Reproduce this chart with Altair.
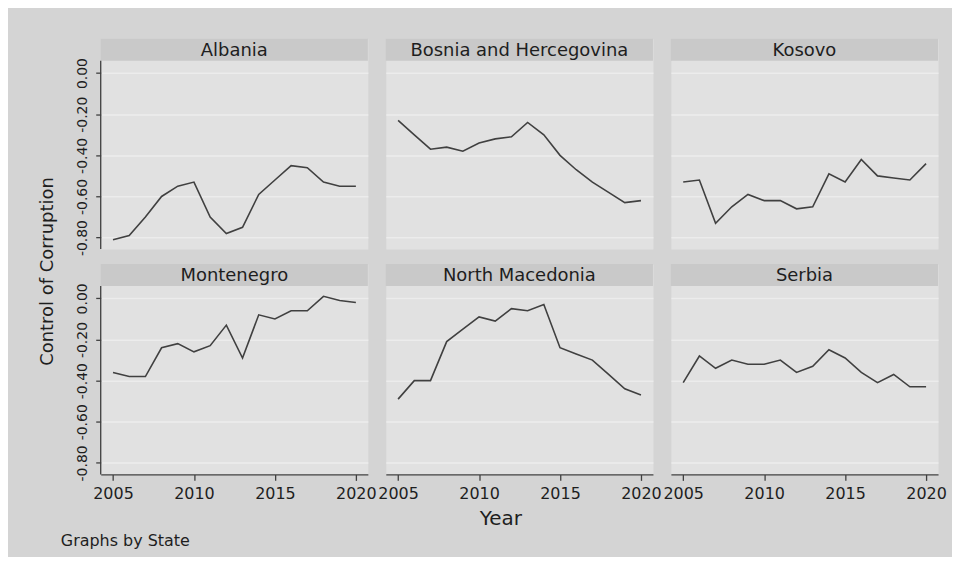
import altair as alt
import pandas as pd

years = list(range(2005, 2021))
states = ["Albania", "Bosnia and Hercegovina", "Kosovo",
          "Montenegro", "North Macedonia", "Serbia"]
albania = [-0.81, -0.79, -0.70, -0.60, -0.55, -0.53, -0.70, -0.78,
           -0.75, -0.59, -0.52, -0.45, -0.46, -0.53, -0.55, -0.55]
bosnia = [-0.23, -0.30, -0.37, -0.36, -0.38, -0.34, -0.32, -0.31,
          -0.24, -0.30, -0.40, -0.47, -0.53, -0.58, -0.63, -0.62]
kosovo = [-0.53, -0.52, -0.73, -0.65, -0.59, -0.62, -0.62, -0.66,
          -0.65, -0.49, -0.53, -0.42, -0.50, -0.51, -0.52, -0.44]
montenegro = [-0.36, -0.38, -0.38, -0.24, -0.22, -0.26, -0.23, -0.13,
              -0.29, -0.08, -0.10, -0.06, -0.06, 0.01, -0.01, -0.02]
macedonia = [-0.49, -0.40, -0.40, -0.21, -0.15, -0.09, -0.11, -0.05,
             -0.06, -0.03, -0.24, -0.27, -0.30, -0.37, -0.44, -0.47]
serbia = [-0.41, -0.28, -0.34, -0.30, -0.32, -0.32, -0.30, -0.36,
          -0.33, -0.25, -0.29, -0.36, -0.41, -0.37, -0.43, -0.43]
series = [albania, bosnia, kosovo, montenegro, macedonia, serbia]

y_ticks = [-0.8, -0.6, -0.4, -0.2, 0.0]
x_ticks = [2005, 2010, 2015, 2020]
y_title = "Control of Corruption"
x_title = "Year"
note = "Graphs by State"

FONT = "DejaVu Sans"
W, H, STRIP = 268, 211, 22
YDOM = [-0.856, 0.167]
XDOM = [2004.24, 2020.74]
LINE = "#404040"
TXT = "#1e1e1e"

label_expr = ("datum.value < 0 ? '-' + format(-datum.value, '.2f') "
              ": format(datum.value, '.2f')")


def panel(name, values, row, col):
    df = pd.DataFrame({"Year": years, "Value": values})
    one = pd.DataFrame({"State": [name]})

    if col == 0:
        ykw = dict(values=y_ticks, labelExpr=label_expr, labelAngle=270,
                   labelAlign="center", labelBaseline="alphabetic",
                   labelFontSize=14, tickSize=5, labelPadding=9,
                   domain=False, grid=True, tickColor=LINE, tickWidth=1.3)
        if row == 0:
            ykw.update(title=y_title, titleX=-53, titleY=233, titleAngle=270,
                       titleAlign="center", titleBaseline="middle",
                       titleFontSize=18, titleFontWeight="normal")
        else:
            ykw.update(title=None)
    else:
        ykw = dict(values=y_ticks, labels=False, ticks=False, domain=False,
                   grid=True, title=None)
    yaxis = alt.Axis(**ykw)

    if row == 1:
        xkw = dict(values=x_ticks, format="d", grid=False, tickSize=6,
                   labelPadding=5, labelFontSize=16, domainColor=LINE,
                   domainWidth=1.3, tickColor=LINE, tickWidth=1.3)
        if col == 1:
            xkw.update(title=x_title, titleX=115, titleY=50,
                       titleAlign="center", titleBaseline="alphabetic",
                       titleFontSize=20, titleFontWeight="normal")
        else:
            xkw.update(title=None)
        xaxis = alt.Axis(**xkw)
    else:
        xaxis = None

    line = alt.Chart(df).mark_line(color=LINE, strokeWidth=1.6).encode(
        x=alt.X("Year:Q", scale=alt.Scale(domain=XDOM, nice=False, zero=False),
                axis=xaxis),
        y=alt.Y("Value:Q", scale=alt.Scale(domain=YDOM, nice=False, zero=False),
                axis=yaxis),
    )
    strip = alt.Chart(one).mark_rect(color="#c9c9c9").encode(
        x=alt.value(0), x2=alt.value(W), y=alt.value(0), y2=alt.value(STRIP)
    )
    strip_text = alt.Chart(one).mark_text(
        font=FONT, fontSize=18, color=TXT, baseline="middle", align="center"
    ).encode(x=alt.value(W / 2), y=alt.value(STRIP / 2 + 1), text="State:N")
    layers = [line, strip, strip_text]
    if col == 0:
        layers.append(alt.Chart(one).mark_rule(color=LINE, strokeWidth=1.3).encode(
            x=alt.value(0), y=alt.value(STRIP), y2=alt.value(H)))
    if row == 1 and col == 0:
        layers.append(alt.Chart(one).mark_text(
            font=FONT, fontSize=16, color=TXT, align="left", baseline="alphabetic"
        ).encode(x=alt.value(-40), y=alt.value(283), text=alt.value(note)))
    return alt.layer(*layers).properties(width=W, height=H)


panels = [panel(states[i], series[i], i // 3, i % 3) for i in range(6)]

chart = alt.concat(
    *panels, columns=3, spacing={"row": 15, "column": 18}, bounds="flush"
).properties(
    background="#d4d4d4",
    padding={"left": 30, "top": 29, "right": 5, "bottom": 6},
).configure_view(
    fill="#e1e1e1", stroke="transparent"
).configure_axis(
    labelFont=FONT, titleFont=FONT, labelColor=TXT, titleColor=TXT,
    gridColor="#ececec", gridWidth=1.5, labelFlush=False, labelOverlap=False,
)

chart.save("out.html", embed_options={"renderer": "svg", "actions": False})
